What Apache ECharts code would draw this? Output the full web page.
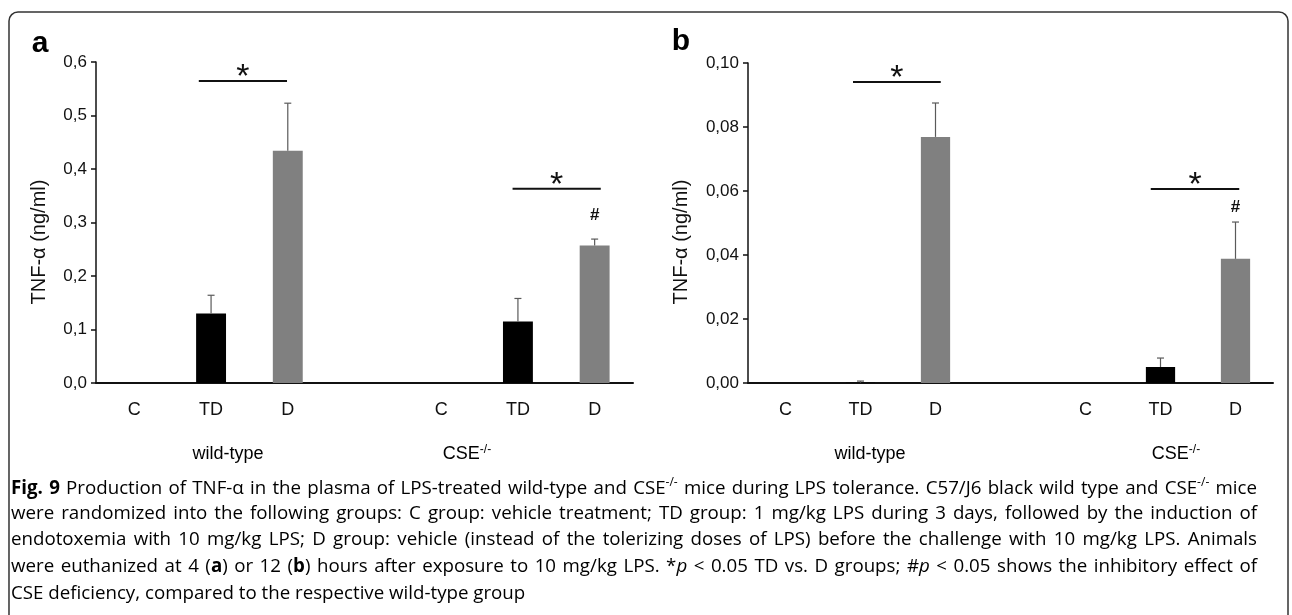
<!DOCTYPE html>
<html>
<head>
<meta charset="utf-8">
<title>TNF-α LPS tolerance</title>
<script src="https://cdn.jsdelivr.net/npm/echarts@6/dist/echarts.min.js"></script>
<style>
  html, body { margin: 0; padding: 0; background: #fff; }
  #main { width: 1292px; height: 615px; }
</style>
</head>
<body>
<div id="main"></div>
<script>
// groups on the x axis (empty slot separates wild-type and CSE-/-)
const categories = ['C', 'TD', 'D', '', 'C', 'TD', 'D'];

// panel a: 4 h after 10 mg/kg LPS (ng/ml)
const meanA = [0, 0.130, 0.434, null, 0, 0.115, 0.257];
const errA = [null, 0.034, 0.089, null, null, 0.043, 0.012];
// panel b: 12 h after 10 mg/kg LPS (ng/ml)
const meanB = [0, 0.0001, 0.0769, null, 0, 0.0050, 0.0388];
const errB = [null, 0.0005, 0.0106, null, null, 0.0028, 0.0115];

// y ticks
const ticksA = [0, 0.1, 0.2, 0.3, 0.4, 0.5, 0.6];
const ticksB = [0, 0.02, 0.04, 0.06, 0.08, 0.10];

// significance bars: [fromCat, toCat, y, fromShift, toShift] (shift in category widths)
const sigA = [[1, 2, 0.5645, -0.16, -0.01], [5, 6, 0.363, -0.07, 0.08]];
const sigB = [[1, 2, 0.0941, -0.10, 0.07], [5, 6, 0.0606, -0.13, 0.05]];
// '#' markers: [cat, y]
const hashA = [[6, 0.314]];
const hashB = [[6, 0.055]];

const groupLabels = ['wild-type', 'CSE'];
const yTitle = 'TNF-α (ng/ml)';

const FONT = '"Liberation Sans", Arial, sans-serif';
const GRAY = '#808080';

function comma(digits) {
    return function (v) { return v.toFixed(digits).replace('.', ','); };
}

function errorBar(params, api) {
    const m = api.value(1);
    const e = api.value(2);
    const base = api.coord([api.value(0), m]);
    const top = api.coord([api.value(0), m + e]);
    const st = { stroke: '#5a5a5a', lineWidth: 1.2 };
    return {
        type: 'group',
        children: [
            { type: 'line', shape: { x1: base[0], y1: base[1], x2: top[0], y2: top[1] }, style: st },
            { type: 'line', shape: { x1: top[0] - 3.5, y1: top[1], x2: top[0] + 3.5, y2: top[1] }, style: st }
        ]
    };
}

function sigBar(params, api) {
    const w = api.size([1, 0])[0];
    const y = api.value(2);
    const p1 = api.coord([api.value(0), y]);
    const p2 = api.coord([api.value(1), y]);
    const x1 = p1[0] + api.value(3) * w;
    const x2 = p2[0] + api.value(4) * w;
    return {
        type: 'group',
        children: [
            { type: 'line', shape: { x1: x1, y1: p1[1], x2: x2, y2: p1[1] }, style: { stroke: '#111', lineWidth: 2 } },
            // asterisk sits just above the bar
            { type: 'text', x: (x1 + x2) / 2, y: p1[1] - 3, style: { text: '*', fontSize: 34, fontFamily: FONT, fill: '#111', align: 'center', verticalAlign: 'middle' } }
        ]
    };
}

function hashMark(params, api) {
    const p = api.coord([api.value(0), api.value(1)]);
    return { type: 'text', x: p[0], y: p[1], style: { text: '#', fontSize: 17, fontWeight: 'bold', fontFamily: FONT, fill: '#111', align: 'center', verticalAlign: 'middle' } };
}

function panelSeries(idx, mean, err, sig, hash) {
    const errData = [];
    err.forEach(function (e, i) { if (e != null) errData.push([i, mean[i], e]); });
    return [
        {
            type: 'bar', xAxisIndex: idx, yAxisIndex: idx, data: mean, barWidth: '39%',
            itemStyle: { color: function (p) { return categories[p.dataIndex] === 'D' ? GRAY : '#000'; } },
            silent: true
        },
        { type: 'custom', xAxisIndex: idx, yAxisIndex: idx, data: errData, renderItem: errorBar, encode: { x: 0, y: 1 }, clip: false, z: 5 },
        { type: 'custom', xAxisIndex: idx, yAxisIndex: idx, data: sig, renderItem: sigBar, encode: { x: 0, y: 2 }, clip: false, z: 5 },
        { type: 'custom', xAxisIndex: idx, yAxisIndex: idx, data: hash, renderItem: hashMark, encode: { x: 0, y: 1 }, clip: false, z: 5 }
    ];
}

function xAxisFor(idx) {
    return {
        type: 'category', gridIndex: idx, data: categories,
        axisLine: { lineStyle: { color: '#111', width: 2 } },
        axisTick: { show: false },
        axisLabel: { interval: 0, fontSize: 18, fontFamily: FONT, color: '#111', margin: 18 },
        splitLine: { show: false }
    };
}

function yAxisFor(idx, ticks, digits) {
    return {
        type: 'value', gridIndex: idx,
        min: ticks[0], max: ticks[ticks.length - 1], interval: ticks[1] - ticks[0],
        axisLine: { show: true, lineStyle: { color: '#111', width: 1.5 } },
        axisTick: { show: true, length: 5, lineStyle: { color: '#111', width: 1.5 } },
        axisLabel: { fontSize: 17, fontFamily: FONT, color: '#111', margin: 9, formatter: comma(digits) },
        splitLine: { show: false }
    };
}

// ---- caption, justified by widening the spaces ----
const capLines = [
    [['b', 'Fig. 9'], ['n', ' Production of TNF-α in the plasma of LPS-treated wild-type and CSE'], ['sup', '-/-'], ['n', ' mice during LPS tolerance. C57/J6 black wild type and CSE'], ['sup', '-/-'], ['n', ' mice']],
    [['n', 'were randomized into the following groups: C group: vehicle treatment; TD group: 1 mg/kg LPS during 3 days, followed by the induction of']],
    [['n', 'endotoxemia with 10 mg/kg LPS; D group: vehicle (instead of the tolerizing doses of LPS) before the challenge with 10 mg/kg LPS. Animals']],
    [['n', 'were euthanized at 4 ('], ['b', 'a'], ['n', ') or 12 ('], ['b', 'b'], ['n', ') hours after exposure to 10 mg/kg LPS. *'], ['i', 'p'], ['n', ' < 0.05 TD vs. D groups; #'], ['i', 'p'], ['n', ' < 0.05 shows the inhibitory effect of']],
    [['n', 'CSE deficiency, compared to the respective wild-type group']]
];
const CAP_FONT = '"Open Sans", sans-serif';
const CAP_W = 1246;
const ctx = document.createElement('canvas').getContext('2d');

function capStyles(size) {
    const base = { fontFamily: CAP_FONT, fontSize: size, color: '#2a2a2a', lineHeight: 24 };
    return {
        n: base,
        b: Object.assign({}, base, { fontWeight: 'bold' }),
        i: Object.assign({}, base, { fontStyle: 'italic' }),
        sup: { fontFamily: CAP_FONT, fontSize: Math.round(size * 0.62), color: '#2a2a2a', verticalAlign: 'top', lineHeight: 14 }
    };
}
function measure(styles, st, txt) {
    const s = styles[st];
    ctx.font = (s.fontStyle || 'normal') + ' ' + (s.fontWeight || 'normal') + ' ' + s.fontSize + 'px ' + s.fontFamily;
    return ctx.measureText(txt).width;
}
function lineWidths(styles, line) {
    let words = 0, spaces = 0;
    line.forEach(function (seg) {
        seg[1].split(' ').forEach(function (w, k, arr) {
            words += measure(styles, seg[0], w);
            if (k < arr.length - 1) spaces++;
        });
    });
    return { words: words, spaces: spaces };
}
// pick the font size so the longest line just fits, like the typeset caption
let fit = Infinity;
capLines.slice(0, capLines.length - 1).forEach(function (line) {
    const st = capStyles(17);
    const lw = lineWidths(st, line);
    const nat = lw.words + lw.spaces * measure(st, 'n', ' ');
    fit = Math.min(fit, 17 * CAP_W / nat);
});
const capSize = Math.min(19, fit * 0.975);
const styles = capStyles(capSize);

const capGraphics = capLines.map(function (line, i) {
    const lw = lineWidths(styles, line);
    const justify = i < capLines.length - 1;
    const spW = justify ? (CAP_W - lw.words) / lw.spaces : measure(styles, 'n', ' ');
    let out = '';
    line.forEach(function (seg) {
        seg[1].split(' ').forEach(function (w, k, arr) {
            if (w !== '') out += '{' + seg[0] + '|' + w + '}';
            if (k < arr.length - 1) out += '{sp| }';
        });
    });
    const rich = Object.assign({}, styles, { sp: { fontFamily: CAP_FONT, fontSize: capSize, width: spW, lineHeight: 24 } });
    return { type: 'text', left: 11, top: 477 + i * 26.7, style: { text: out, rich: rich } };
});

function groupLabel(x, txt, sup) {
    return {
        type: 'text', x: x, y: 454,
        style: {
            text: sup ? '{m|' + txt + '}{s|-/-}' : '{m|' + txt + '}',
            align: 'center', verticalAlign: 'middle',
            rich: {
                m: { fontSize: 18, fontFamily: FONT, color: '#111', lineHeight: 20 },
                s: { fontSize: 12, fontFamily: FONT, color: '#111', lineHeight: 12, verticalAlign: 'top' }
            }
        }
    };
}

function yTitleText(x) {
    return {
        type: 'text', x: x, y: 242, rotation: Math.PI / 2,
        style: { text: yTitle, fontSize: 20, fontFamily: FONT, fill: '#111', align: 'center', verticalAlign: 'middle' }
    };
}

const chart = echarts.init(document.getElementById('main'));
chart.setOption({
    animation: false,
    backgroundColor: '#fff',
    grid: [
        { left: 96, top: 62, width: 537, height: 321, containLabel: false, outerBoundsMode: 'none' },
        { left: 748, top: 63, width: 525, height: 320, containLabel: false, outerBoundsMode: 'none' }
    ],
    xAxis: [xAxisFor(0), xAxisFor(1)],
    yAxis: [yAxisFor(0, ticksA, 1), yAxisFor(1, ticksB, 2)],
    series: panelSeries(0, meanA, errA, sigA, hashA).concat(panelSeries(1, meanB, errB, sigB, hashB)),
    graphic: [
        { type: 'rect', shape: { x: 9, y: 12, width: 1279, height: 700, r: 9 }, style: { fill: 'none', stroke: '#333', lineWidth: 1.5 }, silent: true },
        { type: 'text', x: 40, y: 44, style: { text: 'a', fontSize: 30, fontWeight: 'bold', fontFamily: FONT, fill: '#000', align: 'center', verticalAlign: 'middle' } },
        { type: 'text', x: 681, y: 42, style: { text: 'b', fontSize: 30, fontWeight: 'bold', fontFamily: FONT, fill: '#000', align: 'center', verticalAlign: 'middle' } },
        yTitleText(39),
        yTitleText(681),
        groupLabel(228, groupLabels[0], false),
        groupLabel(467, groupLabels[1], true),
        groupLabel(870, groupLabels[0], false),
        groupLabel(1176, groupLabels[1], true)
    ].concat(capGraphics)
});

window.onresize = function () {
    chart.resize();
};
</script>
</body>
</html>
